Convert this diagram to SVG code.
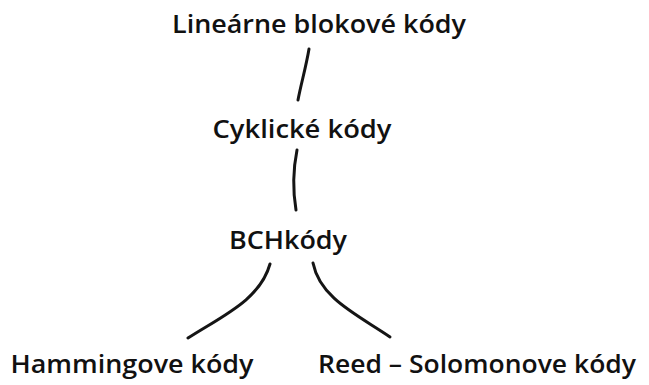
<svg xmlns="http://www.w3.org/2000/svg" width="649" height="385" viewBox="0 0 649 385">
  <style>
    .lbl { font-family: "Open Sans", "Noto Sans", "Liberation Sans", sans-serif; font-size: 26px; font-weight: 600; fill: #111; text-anchor: middle; }
    .edge { fill: none; stroke: #151515; stroke-width: 3; stroke-linecap: round; stroke-linejoin: round; }
  </style>
  <rect width="649" height="385" fill="#ffffff"/>

  <!-- hand-drawn style connecting strokes -->
  <g id="connectors">
    <path class="edge" d="M309,49 C306,67 301,84 298,100"/>
    <path class="edge" d="M297,150 C293,170 293,192 296,210"/>
    <path class="edge" d="M270,264 C260,300 222,316 188,338"/>
    <path class="edge" d="M313,263 C320,298 356,314 390,337"/>
  </g>

  <g id="node-linearne">
    <text class="lbl" x="319" y="33" textLength="294" lengthAdjust="spacingAndGlyphs">Lineárne blokové kódy</text>
  </g>
  <g id="node-cyklicke">
    <text class="lbl" x="302" y="138" textLength="179" lengthAdjust="spacingAndGlyphs">Cyklické kódy</text>
  </g>
  <g id="node-bch">
    <text class="lbl" x="288" y="249" textLength="118" lengthAdjust="spacingAndGlyphs">BCHkódy</text>
  </g>
  <g id="node-hamming">
    <text class="lbl" x="132" y="373" textLength="243" lengthAdjust="spacingAndGlyphs">Hammingove kódy</text>
  </g>
  <g id="node-reed-solomon">
    <text class="lbl" x="477" y="373" textLength="318" lengthAdjust="spacingAndGlyphs">Reed – Solomonove kódy</text>
  </g>
</svg>
